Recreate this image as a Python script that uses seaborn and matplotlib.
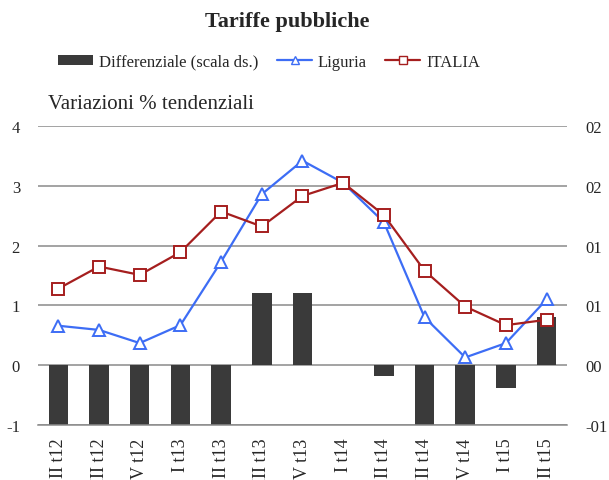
import numpy as np
import pandas as pd
import matplotlib
matplotlib.use("Agg")
import matplotlib.pyplot as plt
import seaborn as sns
from matplotlib.lines import Line2D
from matplotlib.patches import Patch

# data
quarters = ["II t12", "III t12", "IV t12", "I t13", "II t13", "III t13", "IV t13",
            "I t14", "II t14", "III t14", "IV t14", "I t15", "II t15"]
liguria = [0.66, 0.59, 0.37, 0.67, 1.73, 2.86, 3.42, 3.05, 2.39, 0.80, 0.13, 0.37, 1.10]
italia = [1.28, 1.65, 1.51, 1.89, 2.57, 2.32, 2.83, 3.05, 2.51, 1.58, 0.98, 0.67, 0.76]
# differential on the right-hand scale (lower values clipped by the axis)
differenziale = [-0.5, -0.5, -0.5, -0.5, -0.5, 0.6, 0.6, 0.0, -0.09, -0.5, -0.5, -0.19, 0.40]
right_ticks = [-0.5, 0, 0.5, 1.0, 1.5, 2.0]
right_labels = ["-01", "00", "01", "01", "02", "02"]

sns.set_style("white")
plt.rcParams["font.family"] = ["Liberation Serif", "DejaVu Serif"]
plt.rcParams["axes.unicode_minus"] = False

df = pd.DataFrame({"quarter": quarters, "Liguria": liguria,
                   "ITALIA": italia, "diff": differenziale})

fig = plt.figure(figsize=(6.09, 4.81), dpi=100)
ax = fig.add_axes([0.0624, 0.1143, 0.8686, 0.6217])
ax2 = ax.twinx()

# bars + grid on the right axis
sns.barplot(data=df, x="quarter", y="diff", ax=ax2, color="#3a3a3a",
            saturation=1, width=0.48, edgecolor="none")
ax2.set_ylim(-0.5, 2.0)
ax2.set_yticks(right_ticks)
ax2.set_yticklabels(right_labels)
ax2.set_axisbelow(True)
ax2.yaxis.grid(True, color="#8a8a8a", linewidth=1.1)
ax2.set_ylabel("")
ax2.set_xlabel("")

# lines on the left axis, drawn above the bars
ax.set_zorder(ax2.get_zorder() + 1)
ax.patch.set_visible(False)
sns.lineplot(data=df, x="quarter", y="Liguria", ax=ax, sort=False, color="#3d6df5",
             linewidth=1.6, marker="^", markersize=8, markerfacecolor="white",
             markeredgecolor="#3d6df5", markeredgewidth=1.4)
sns.lineplot(data=df, x="quarter", y="ITALIA", ax=ax, sort=False, color="#a51e1e",
             linewidth=1.6, marker="s", markersize=9, markerfacecolor="white",
             markeredgecolor="#a51e1e", markeredgewidth=1.4)
ax.set_ylim(-1, 4)
ax.set_yticks(range(-1, 5))
ax.set_xlim(-0.5, len(quarters) - 0.5)
ax.set_ylabel("")
ax.set_xlabel("")

for a in (ax, ax2):
    for s in ("top", "left", "right", "bottom"):
        a.spines[s].set_visible(False)
ax.spines["bottom"].set_visible(True)
ax.spines["bottom"].set_color("#8a8a8a")
ax.spines["bottom"].set_linewidth(1.1)

ax.tick_params(axis="y", length=0, labelsize=12, pad=13)
ax2.tick_params(axis="y", length=0, labelsize=12, pad=13)
ax2.tick_params(axis="x", length=0, labelbottom=False)

# quarter labels run past the bottom edge, as in the original export
ax.set_xticks(range(len(quarters)))
ax.set_xticklabels(quarters, rotation=90, fontsize=13)
ax.tick_params(axis="x", which="major", length=0, pad=9)
for lab in ax.get_xticklabels():
    lab.set_verticalalignment("top")
ax.set_xticks(np.arange(-0.5, len(quarters)), minor=True)
ax.tick_params(axis="x", which="minor", length=5, color="#8a8a8a", width=1)

fig.text(0.472, 0.955, "Tariffe pubbliche", ha="center", va="center",
         fontsize=16, fontweight="bold")
fig.text(0.078, 0.783, "Variazioni % tendenziali", ha="left", va="center", fontsize=15)

handles = [Patch(facecolor="#3a3a3a", edgecolor="none"),
           Line2D([], [], color="#3d6df5", linewidth=1.6, marker="^", markersize=6,
                  markerfacecolor="white", markeredgecolor="#3d6df5"),
           Line2D([], [], color="#a51e1e", linewidth=1.6, marker="s", markersize=6,
                  markerfacecolor="white", markeredgecolor="#a51e1e")]
fig.legend(handles, ["Differenziale (scala ds.)", "Liguria", "ITALIA"],
           loc="center", bbox_to_anchor=(0.442, 0.87), ncol=3, frameon=False,
           fontsize=12, handlelength=2.1, handleheight=0.55, columnspacing=1.1,
           handletextpad=0.35)

fig.savefig("out.png", dpi=100)
